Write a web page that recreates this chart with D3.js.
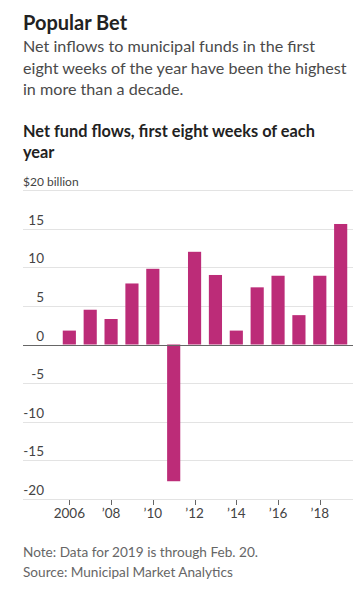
<!DOCTYPE html>
<html><head><meta charset="utf-8">
<script src="https://cdn.jsdelivr.net/npm/d3@7"></script>
<style>
body{margin:0;background:#fff;}
svg{display:block;}
</style></head>
<body>
<svg id="c" width="362" height="604"></svg>
<script>
const years = [2006,2007,2008,2009,2010,2011,2012,2013,2014,2015,2016,2017,2018,2019];
const flows = [1.8,4.5,3.3,7.9,9.8,-17.7,12.0,9.0,1.8,7.4,8.9,3.8,8.9,15.6];
const yTicks = [20,15,10,5,0,-5,-10,-15,-20];
const xTickYears = [2006,2008,2010,2012,2014,2016,2018];
const xTickLabels = ["2006","\u201908","\u201910","\u201912","\u201914","\u201916","\u201918"];
const title = "Popular Bet";
const subtitle = ["Net inflows to municipal funds in the first","eight weeks of the year have been the highest","in more than a decade."];
const chartTitle = ["Net fund flows, first eight weeks of each","year"];
const notes = ["Note: Data for 2019 is through Feb. 20.","Source: Municipal Market Analytics"];

const svg = d3.select("#c");
const font = "Lato, 'Noto Sans', sans-serif";
const L = 23, R = 353;

// fit a group of lines so that the reference line has target width
function fitLines(sel, refIndex, target){
  const nodes = sel.nodes();
  const fs = parseFloat(nodes[refIndex].getAttribute("font-size"));
  const w = nodes[refIndex].getComputedTextLength();
  const nf = fs*target/w;
  sel.attr("font-size", nf);
}

svg.append("text").attr("x",L).attr("y",30).attr("font-family",font).attr("font-weight",700)
  .attr("font-size",20).attr("fill","#222").text(title);
const sub = svg.append("g").selectAll("text").data(subtitle).join("text")
  .attr("x",L).attr("y",(d,i)=>52+i*21.5).attr("font-family",font)
  .attr("font-size",16).attr("fill","#4a4a4a").text(d=>d);
fitLines(sub,1,324);
const ct = svg.append("g").selectAll("text").data(chartTitle).join("text")
  .attr("x",L).attr("y",(d,i)=>137+i*20.5).attr("font-family",font)
  .attr("font-weight",700).attr("font-size",15.6).attr("fill","#222").text(d=>d);
fitLines(ct,0,292);

const y = d3.scaleLinear().domain([-20,20]).range([499,190]);
const x = d3.scaleBand().domain(years).range([59,351]).paddingInner(0.37).paddingOuter(0.18);

// gridlines
svg.append("g").selectAll("line").data(yTicks.filter(d=>d!==0)).join("line")
  .attr("x1",L).attr("x2",R).attr("y1",d=>Math.round(y(d))+0.5).attr("y2",d=>Math.round(y(d))+0.5)
  .attr("stroke","#e3e3e3").attr("stroke-width",1);

// y labels
svg.append("g").selectAll("text").data(yTicks).join("text")
  .attr("x",d=>d===20?L:44).attr("y",d=>Math.round(y(d))-4)
  .attr("text-anchor",d=>d===20?"start":"end")
  .attr("font-family",font).attr("font-size",d=>d===20?12:13.5).attr("fill","#444")
  .text(d=>d===20?"$20 billion":d);

// bars
svg.append("g").selectAll("rect").data(years).join("rect")
  .attr("x",(d)=>x(d)).attr("width",x.bandwidth())
  .attr("y",(d,i)=>y(Math.max(0,flows[i])))
  .attr("height",(d,i)=>Math.abs(y(flows[i])-y(0)))
  .attr("fill","#bc2c78");

// zero line
svg.append("line").attr("x1",L).attr("x2",R).attr("y1",Math.round(y(0))+0.5).attr("y2",Math.round(y(0))+0.5)
  .attr("stroke","#666").attr("stroke-width",1.2);

// x ticks
const xc = d=>x(d)+x.bandwidth()/2;
svg.append("g").selectAll("line").data(xTickYears).join("line")
  .attr("x1",d=>Math.round(xc(d))+0.5).attr("x2",d=>Math.round(xc(d))+0.5)
  .attr("y1",500).attr("y2",505).attr("stroke","#666");
svg.append("g").selectAll("text").data(xTickYears).join("text")
  .attr("x",d=>xc(d)).attr("y",518).attr("text-anchor","middle")
  .attr("font-family",font).attr("font-size",13.5).attr("fill","#444")
  .text((d,i)=>xTickLabels[i]);

const nt = svg.append("g").selectAll("text").data(notes).join("text")
  .attr("x",L).attr("y",(d,i)=>557+i*20).attr("font-family",font)
  .attr("font-size",13.6).attr("fill","#666").text(d=>d);
fitLines(nt,0,235);
</script>
</body></html>
